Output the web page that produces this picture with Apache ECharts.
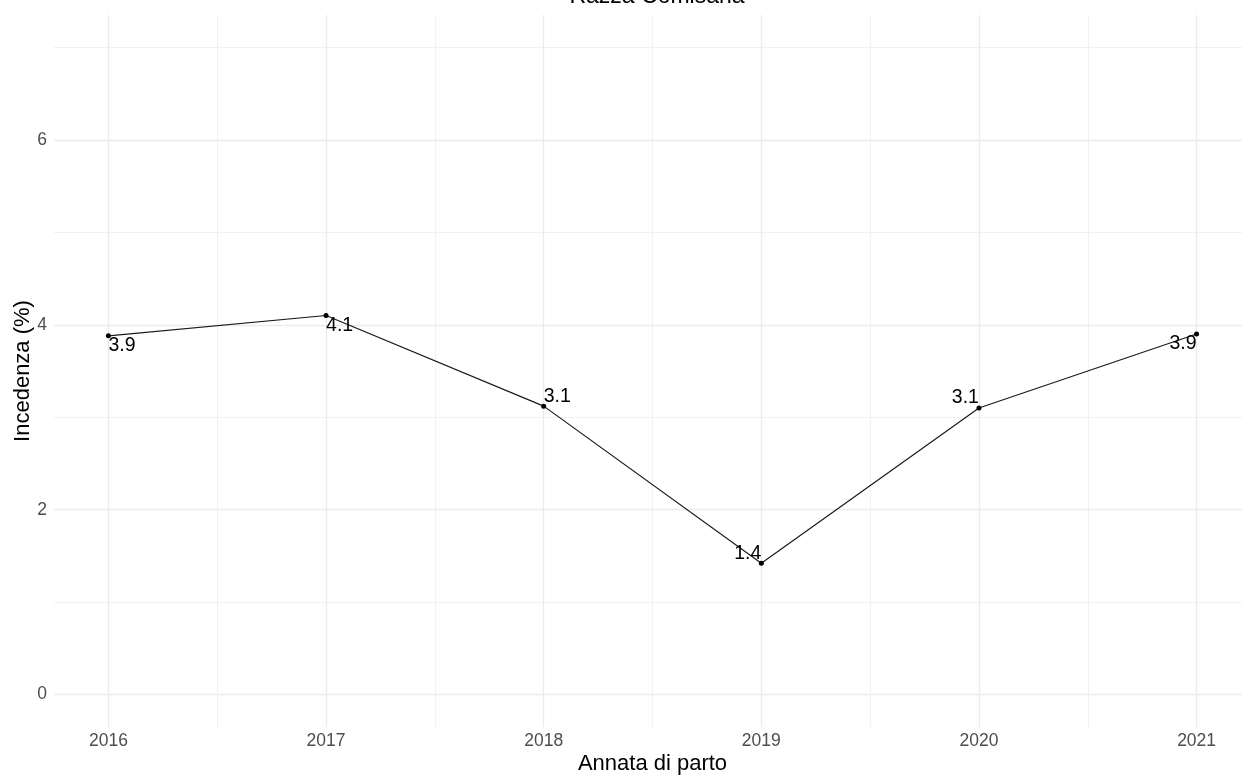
<!DOCTYPE html>
<html>
<head>
<meta charset="utf-8">
<script src="https://cdn.jsdelivr.net/npm/echarts@6/dist/echarts.min.js"></script>
<style>
html,body{margin:0;padding:0;background:#fff;}
#chart{width:1242px;height:776px;}
</style>
</head>
<body>
<div id="chart"></div>
<script>
// ---- data ----
const years = [2016, 2017, 2018, 2019, 2020, 2021];
const incidence = [3.88, 4.10, 3.12, 1.42, 3.10, 3.90];
const xTickLabels = [2016, 2017, 2018, 2019, 2020, 2021];
const xMinorTicks = [2016.5, 2017.5, 2018.5, 2019.5, 2020.5];
const yTickLabels = [0, 2, 4, 6];
const yMinorTicks = [1, 3, 5, 7];
const titleText = 'Razza Comisana';
const xTitle = 'Annata di parto';
const yTitle = 'Incedenza (%)';

// ---- label placement (style) ----
const labelPlace = [
  {align: 'left', verticalAlign: 'top', offset: [0, -4]},
  {align: 'left', verticalAlign: 'top', offset: [0, -1]},
  {align: 'left', verticalAlign: 'bottom', offset: [0, 5]},
  {align: 'right', verticalAlign: 'bottom', offset: [0, 5]},
  {align: 'right', verticalAlign: 'bottom', offset: [-1, 5]},
  {align: 'right', verticalAlign: 'top', offset: [-3, -4]}
];

const FONT = '"Liberation Sans", Arial, sans-serif';
const chart = echarts.init(document.getElementById('chart'), null, {renderer: 'canvas'});

const seriesData = years.map((y, i) => ({
  value: [y, incidence[i]],
  label: Object.assign({}, labelPlace[i])
}));

const majorLine = {show: true, lineStyle: {color: '#ebebeb', width: 1.3}};
const minorLine = {show: true, lineStyle: {color: '#f1f1f1', width: 1}};

chart.setOption({
  animation: false,
  backgroundColor: '#ffffff',
  textStyle: {fontFamily: FONT},
  title: {
    text: titleText,
    left: 652, textAlign: 'center',
    top: -20,
    textStyle: {fontFamily: FONT, fontSize: 23, fontWeight: 'normal', color: '#000'}
  },
  grid: {left: 54, right: -9, top: 15, bottom: 49, outerBoundsMode: 'none'},
  xAxis: [
    {
      type: 'value', min: 2015.75, max: 2021.25,
      name: xTitle, nameLocation: 'middle', nameGap: 26, nameMoveOverlap: false,
      nameTextStyle: {fontFamily: FONT, fontSize: 22, color: '#000'},
      axisLine: {show: false},
      axisTick: {show: false, customValues: xTickLabels},
      axisLabel: {customValues: xTickLabels, fontFamily: FONT, fontSize: 17.5, color: '#4d4d4d', margin: 5,
                  formatter: v => String(v)},
      splitLine: majorLine
    },
    {
      type: 'value', min: 2015.75, max: 2021.25, position: 'bottom',
      axisLine: {show: false},
      axisTick: {show: false, customValues: xMinorTicks},
      axisLabel: {show: false},
      splitLine: minorLine
    }
  ],
  yAxis: [
    {
      type: 'value', min: -0.35, max: 7.35,
      name: yTitle, nameLocation: 'middle', nameGap: 31, nameRotate: 90, nameMoveOverlap: false,
      nameTextStyle: {fontFamily: FONT, fontSize: 22, color: '#000', verticalAlign: 'middle'},
      axisLine: {show: false},
      axisTick: {show: false, customValues: yTickLabels},
      axisLabel: {customValues: yTickLabels, fontFamily: FONT, fontSize: 17.5, color: '#4d4d4d', margin: 7,
                  formatter: v => String(v)},
      splitLine: majorLine
    },
    {
      type: 'value', min: -0.35, max: 7.35, position: 'left',
      axisLine: {show: false},
      axisTick: {show: false, customValues: yMinorTicks},
      axisLabel: {show: false},
      splitLine: minorLine
    }
  ],
  series: [{
    type: 'line',
    xAxisIndex: 0, yAxisIndex: 0,
    data: seriesData,
    symbol: 'circle', symbolSize: 5,
    itemStyle: {color: '#000'},
    lineStyle: {color: '#1a1a1a', width: 1.2},
    z: 5,
    label: {
      show: true, position: 'inside',
      fontFamily: FONT, fontSize: 19.5, color: '#000',
      formatter: p => p.value[1].toFixed(1)
    },
    labelLayout: {hideOverlap: false}
  }]
});
</script>
</body>
</html>
